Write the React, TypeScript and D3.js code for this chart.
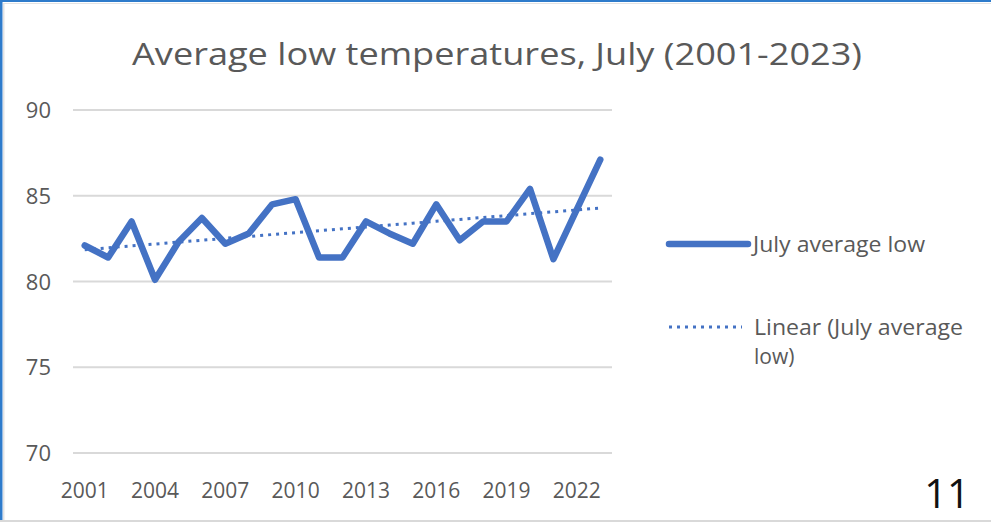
import React from "react";
import * as d3 from "d3";

const years: number[] = [2001,2002,2003,2004,2005,2006,2007,2008,2009,2010,2011,2012,2013,2014,2015,2016,2017,2018,2019,2020,2021,2022,2023];
const lows: number[] = [82.1,81.4,83.5,80.1,82.3,83.7,82.2,82.8,84.5,84.8,81.4,81.4,83.5,82.8,82.2,84.5,82.4,83.5,83.5,85.4,81.3,84.2,87.1];
const yTicks: number[] = [70,75,80,85,90];
const xTickYears: number[] = [2001,2004,2007,2010,2013,2016,2019,2022];
const title = "Average low temperatures, July (2001-2023)";
const legendSeries = "July average low";
const legendTrend1 = "Linear (July average";
const legendTrend2 = "low)";

const W = 991, H = 522;
const FONT = "'Open Sans', 'Liberation Sans', sans-serif";
const TXT = "#595959";
const BLUE = "#4472C4";

export default function App() {
  const x = d3.scaleBand<number>().domain(years).range([73, 612]);
  const cx = (yr: number) => (x(yr) as number) + x.bandwidth() / 2;
  const y = d3.scaleLinear().domain([70, 90]).range([453, 110]);

  const line = d3.line<number>().x((_, i) => cx(years[i])).y(d => y(d));

  // linear regression trendline
  const n = lows.length;
  const idx = d3.range(n);
  const mx = d3.mean(idx) as number;
  const my = d3.mean(lows) as number;
  const slope = d3.sum(idx, i => (i - mx) * (lows[i] - my)) / d3.sum(idx, i => (i - mx) ** 2);
  const intercept = my - slope * mx;
  const trend = idx.map(i => intercept + slope * i);

  return (
    <svg width={W} height={H} style={{ position: "absolute", left: 0, top: 0, background: "#fff" }}>
      <rect x={0} y={0} width={W} height={H} fill="#fff" />
      {/* frame */}
      <rect x={0} y={0} width={W} height={2} fill="#2E7BCB" />
      <rect x={0} y={0} width={2.5} height={H} fill="#2E7BCB" />
      <rect x={3} y={3} width={W - 3} height={1} fill="#e3e3e3" />
      <rect x={3} y={3} width={1.5} height={H} fill="#e3e3e3" />
      <rect x={0} y={H - 2} width={W} height={2} fill="#d9d9d9" />

      <text x={497} y={65} textAnchor="middle" fontFamily={FONT} fontSize={31} fill={TXT}
        textLength={730} lengthAdjust="spacingAndGlyphs">{title}</text>

      {yTicks.map(t => (
        <g key={t}>
          <line x1={73} x2={612} y1={y(t)} y2={y(t)} stroke="#d9d9d9" strokeWidth={2} />
          <text x={51} y={y(t) + 8} textAnchor="end" fontFamily={FONT} fontSize={22} fill={TXT}>{t}</text>
        </g>
      ))}
      {xTickYears.map(yr => (
        <text key={yr} x={cx(yr)} y={498} textAnchor="middle" fontFamily={FONT} fontSize={21} fill={TXT}>{yr}</text>
      ))}

      <path d={line(lows) as string} fill="none" stroke={BLUE} strokeWidth={6.5} strokeLinejoin="round" strokeLinecap="round" />
      <path d={line(trend) as string} fill="none" stroke={BLUE} strokeWidth={3} strokeDasharray="3 5" />

      {/* legend */}
      <line x1={669} x2={748} y1={244} y2={244} stroke={BLUE} strokeWidth={6.5} strokeLinecap="round" />
      <text x={753} y={252} fontFamily={FONT} fontSize={21} fill={TXT} textLength={172} lengthAdjust="spacingAndGlyphs">{legendSeries}</text>
      <line x1={669} x2={742} y1={327} y2={327} stroke={BLUE} strokeWidth={3} strokeDasharray="3 5" />
      <text x={754} y={335} fontFamily={FONT} fontSize={21} fill={TXT} textLength={209} lengthAdjust="spacingAndGlyphs">{legendTrend1}</text>
      <text x={754} y={364} fontFamily={FONT} fontSize={21} fill={TXT}>{legendTrend2}</text>

      <text x={970} y={508} textAnchor="end" fontFamily={FONT} fontSize={40} fill="#111">11</text>
    </svg>
  );
}
